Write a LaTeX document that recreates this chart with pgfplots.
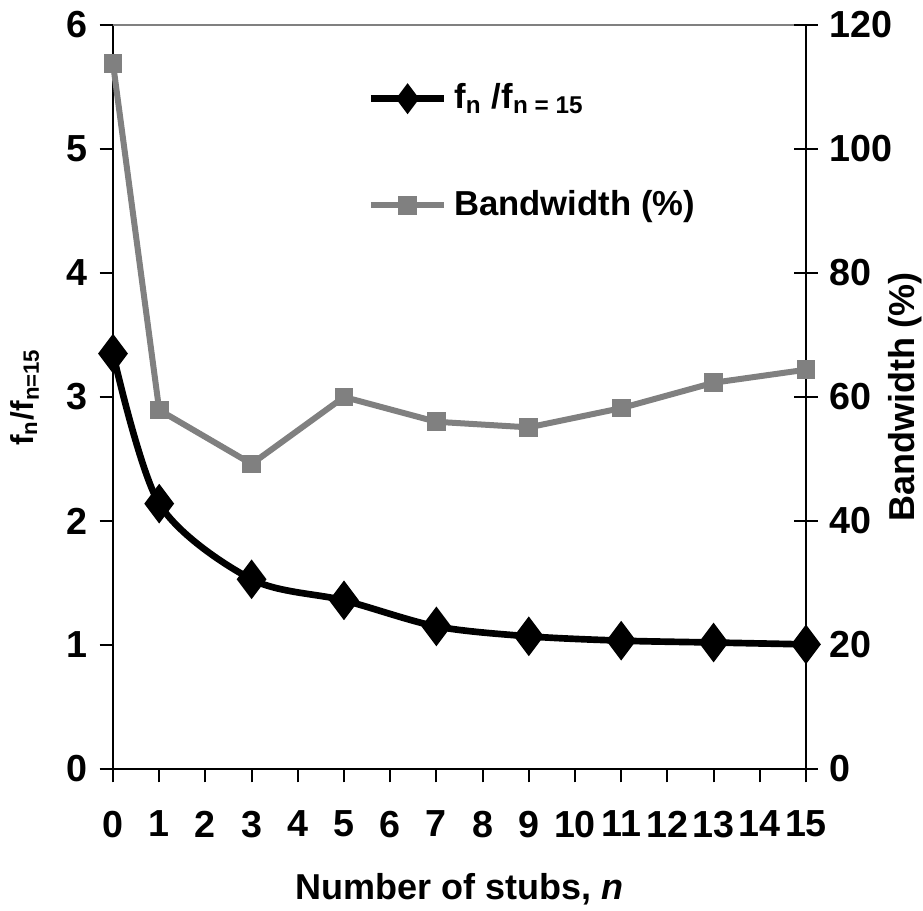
\documentclass[border=0pt]{standalone}
\usepackage{fontspec}
\setmainfont{Liberation Sans}
\usepackage{pgfplots}
\pgfplotsset{compat=1.18}
\definecolor{bwgray}{RGB}{128,128,128}
\begin{document}
\begin{tikzpicture}
\pgfplotsset{
  every axis/.append style={
    scale only axis, width=207.9pt, height=223.2pt,
    xmin=0, xmax=15, xtick={0,...,15},
    /pgf/number format/assume math mode=true,
    tick label style={font=\fontsize{11.3}{13}\selectfont\bfseries},
    label style={font=\fontsize{10.8}{13}\selectfont\bfseries},
    axis line style={line width=0.6pt},
    major tick style={line width=0.6pt, black},
    clip=false,
  }
}
\begin{axis}[
  axis x line*=bottom, axis y line*=left,
  tick align=outside, major tick length=4pt,
  ymin=0, ymax=6, ytick={0,...,6},
  xlabel={Number of stubs, \textit{n}},
  ylabel={\fontsize{9.5}{11}\selectfont f\textsubscript{n}/f\textsubscript{n=15}},
  xticklabel style={yshift=-5pt},
  xlabel style={yshift=-4pt},
  ylabel style={at={(rel axis cs:-0.127,0.5)}, anchor=center},
]
\draw[bwgray, line width=0.8pt] (rel axis cs:0,1) -- (rel axis cs:1,1);
\addplot[black, line width=2pt, smooth, mark=diamond*, mark size=4.3pt, mark options={solid}]
  coordinates {(0,3.35) (1,2.14) (3,1.53) (5,1.36) (7,1.15) (9,1.07) (11,1.035) (13,1.02) (15,1.005)};
\end{axis}
\begin{axis}[
  axis x line=none, axis y line*=right,
  tick align=center, major tick length=7pt,
  ymin=0, ymax=120, ytick={0,20,...,120},
  ylabel={Bandwidth (\%)},
  ylabel style={at={(rel axis cs:1.143,0.5)}, anchor=center},
  legend style={draw=none, fill=none, at={(rel axis cs:0.352,0.94)}, anchor=north west,
    font=\fontsize{10.4}{12}\selectfont\bfseries, row sep=19pt,
    /tikz/every even column/.append style={column sep=2pt}},
  legend cell align=left,
  legend image code/.code={\draw[mark repeat=2,mark phase=2,#1] plot coordinates {(0pt,0pt) (11pt,0pt) (22pt,0pt)};},
]
\addlegendimage{black, line width=2pt, mark=diamond*, mark size=3pt}
\addlegendentry{f\textsubscript{n} /f\textsubscript{n = 15}}
\addplot[bwgray, line width=1.8pt, mark=square*, mark size=1.9pt]
  coordinates {(0,113.8) (1,57.9) (3,49.2) (5,60) (7,56) (9,55.1) (11,58.2) (13,62.3) (15,64.4)};
\addlegendentry{Bandwidth (\%)}
\end{axis}
\pgfresetboundingbox
\path (-33.9pt,-42.6pt) rectangle (243pt,230.7pt);
\end{tikzpicture}
\end{document}
